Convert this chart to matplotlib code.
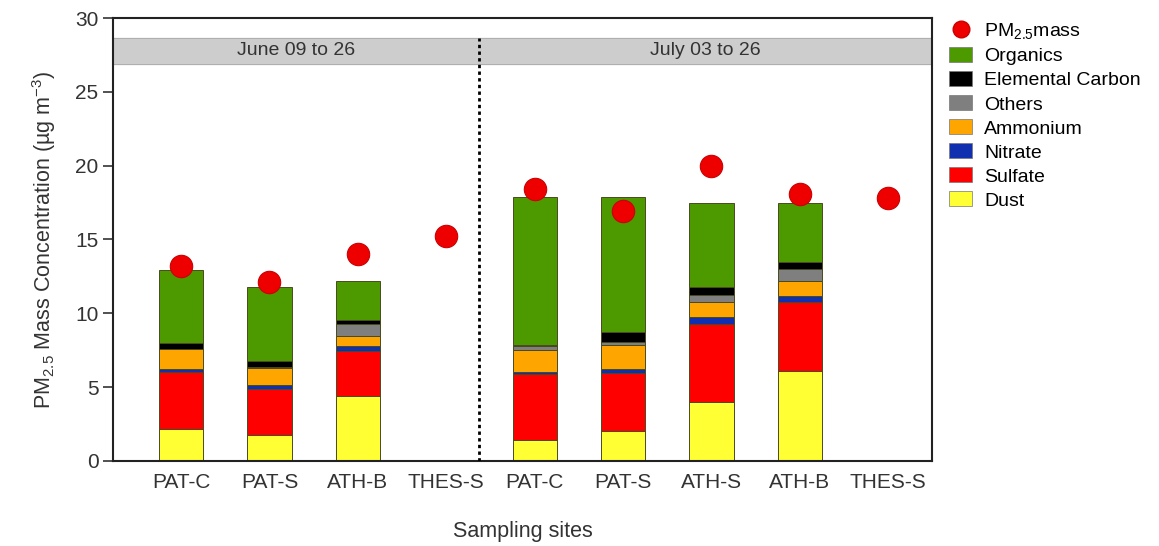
"""PM2.5 chemical composition by sampling site, June vs July campaigns."""
import matplotlib.pyplot as plt
from matplotlib.lines import Line2D
from matplotlib.patches import Patch

plt.rcParams["font.family"] = ["Liberation Sans", "DejaVu Sans"]
plt.rcParams["mathtext.fontset"] = "custom"
plt.rcParams["mathtext.rm"] = "Liberation Sans"
plt.rcParams["mathtext.it"] = "Liberation Sans:italic"

sites = ["PAT-C", "PAT-S", "ATH-B", "THES-S", "PAT-C", "PAT-S", "ATH-S", "ATH-B", "THES-S"]
periods = ["June 09 to 26", "July 03 to 26"]
n_june = 4

# stacked components, bottom to top (ug m-3)
dust = [2.15, 1.75, 4.4, 0, 1.4, 2.05, 4.0, 6.1, 0]
sulfate = [3.9, 3.1, 3.05, 0, 4.45, 3.9, 5.3, 4.65, 0]
nitrate = [0.15, 0.3, 0.3, 0, 0.15, 0.3, 0.45, 0.45, 0]
ammonium = [1.35, 1.15, 0.7, 0, 1.5, 1.6, 1.0, 1.0, 0]
others = [0.05, 0.05, 0.8, 0, 0.3, 0.2, 0.5, 0.8, 0]
elemental_carbon = [0.35, 0.4, 0.3, 0, 0.05, 0.65, 0.55, 0.5, 0]
organics = [4.95, 5.0, 2.6, 0, 10.0, 9.2, 5.7, 3.95, 0]
pm25_mass = [13.2, 12.1, 14.0, 15.2, 18.4, 16.9, 20.0, 18.05, 17.8]

components = [
    ("Dust", dust, "#FFFF33"),
    ("Sulfate", sulfate, "#FF0000"),
    ("Nitrate", nitrate, "#1030B0"),
    ("Ammonium", ammonium, "#FFA500"),
    ("Others", others, "#7F7F7F"),
    ("Elemental Carbon", elemental_carbon, "#000000"),
    ("Organics", organics, "#4C9A00"),
]

fig = plt.figure(figsize=(11.59, 5.46), dpi=100)
ax = fig.add_axes([0.0975, 0.156, 0.707, 0.811])

x = list(range(len(sites)))
bottom = [0.0] * len(sites)
for name, values, color in components:
    ax.bar(x, values, width=0.5, bottom=bottom, color=color,
           edgecolor="#4a4a20", linewidth=0.7, zorder=2)
    bottom = [b + v for b, v in zip(bottom, values)]

ax.scatter(x, pm25_mass, s=260, color="#EE0000", edgecolor="#CC0000",
           linewidth=0.8, zorder=4)

# campaign header band and separator
split = n_june - 0.63
ax.axhspan(26.9, 28.65, color="#CDCDCD", zorder=1)
ax.axhline(26.9, color="#AAAAAA", linewidth=0.6, zorder=1)
ax.axhline(28.65, color="#AAAAAA", linewidth=0.6, zorder=1)
ax.plot([split, split], [0, 28.65], color="black", linestyle=(0, (1.2, 1.2)),
        linewidth=2, zorder=3)
ax.text((-0.77 + split) / 2, 27.78, periods[0], ha="center", va="center", fontsize=14, color="#333333")
ax.text((split + 8.5) / 2, 27.78, periods[1], ha="center", va="center", fontsize=14, color="#333333")

ax.set_xlim(-0.77, 8.5)
ax.set_ylim(0, 30)
ax.set_yticks([0, 5, 10, 15, 20, 25, 30])
ax.set_xticks(x)
ax.set_xticklabels(sites)
ax.tick_params(axis="x", length=0, pad=9, labelsize=15, colors="#333333")
ax.tick_params(axis="y", length=7, width=1.2, labelsize=15, colors="#333333")
for side in ["left", "bottom", "top", "right"]:
    ax.spines[side].set_linewidth(1.5)
    ax.spines[side].set_color("#222222")

ax.set_xlabel("Sampling sites", fontsize=15.5, labelpad=21, color="#333333")
ax.set_ylabel("PM$_{2.5}$ Mass Concentration (µg m$^{-3}$)", fontsize=15.5, color="#333333", labelpad=12)

handles = [Line2D([], [], marker="o", linestyle="none", markersize=12,
                  markerfacecolor="#EE0000", markeredgecolor="#CC0000", label="PM$_{2.5}$mass")]
for name, values, color in reversed(components):
    handles.append(Patch(facecolor=color, edgecolor="#777777", linewidth=0.5, label=name))
fig.legend(handles=handles, loc="upper left", bbox_to_anchor=(0.812, 0.975),
           frameon=False, fontsize=14, handlelength=1.2, handleheight=0.8,
           handletextpad=0.6, labelspacing=0.3, borderaxespad=0)

fig.savefig("out.png", dpi=100)
